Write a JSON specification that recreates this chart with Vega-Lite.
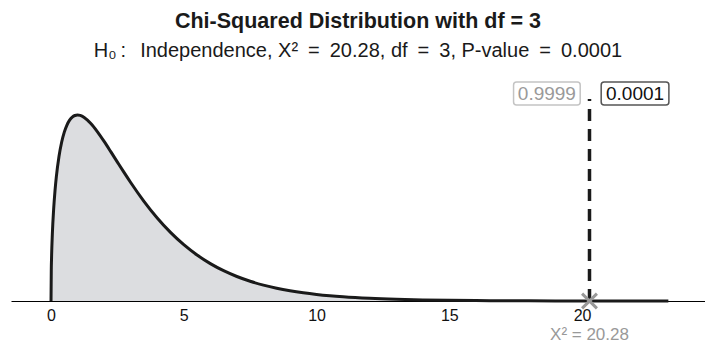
{
  "$schema": "https://vega.github.io/schema/vega-lite/v6.json",
  "autosize": "none",
  "width": 694,
  "height": 221,
  "padding": {"left": 11, "top": 80, "right": 0, "bottom": 45},
  "background": "white",
  "config": {"view": {"stroke": null}, "font": "Liberation Sans"},
  "title": {
    "text": "Chi-Squared Distribution with df = 3",
    "subtitle": "H₀\u2009:\u2002\u2009Independence, X²\u2002=\u200220.28, df\u2002=\u20023, P-value\u2002=\u20020.0001",
    "anchor": "middle",
    "frame": "group",
    "offset": 19,
    "font": "Liberation Sans",
    "fontSize": 21.5,
    "fontWeight": "bold",
    "color": "#1a1a1a",
    "subtitleFont": "Liberation Sans",
    "subtitleFontSize": 20,
    "subtitleColor": "#1a1a1a",
    "subtitlePadding": 9
  },
  "datasets": {
    "curve": [
      {"x": 0, "d": 0}, {"x": 0.01, "d": 0.0397}, {"x": 0.02, "d": 0.05586}, {"x": 0.05, "d": 0.087},
      {"x": 0.1, "d": 0.12}, {"x": 0.15, "d": 0.14334}, {"x": 0.2, "d": 0.16144}, {"x": 0.3, "d": 0.18807},
      {"x": 0.4, "d": 0.20658}, {"x": 0.5, "d": 0.2197}, {"x": 0.6, "d": 0.22893}, {"x": 0.7, "d": 0.23521},
      {"x": 0.8, "d": 0.23919}, {"x": 0.9, "d": 0.24132}, {"x": 1, "d": 0.24197}, {"x": 1.1, "d": 0.2414},
      {"x": 1.25, "d": 0.23874}, {"x": 1.5, "d": 0.2308}, {"x": 1.75, "d": 0.22}, {"x": 2, "d": 0.20755},
      {"x": 2.25, "d": 0.19427}, {"x": 2.5, "d": 0.18072}, {"x": 2.75, "d": 0.16727}, {"x": 3, "d": 0.15418},
      {"x": 3.5, "d": 0.1297}, {"x": 4, "d": 0.10798}, {"x": 4.5, "d": 0.0892}, {"x": 5, "d": 0.07322},
      {"x": 5.5, "d": 0.05981}, {"x": 6, "d": 0.04865}, {"x": 6.5, "d": 0.03944}, {"x": 7, "d": 0.03187},
      {"x": 7.5, "d": 0.0257}, {"x": 8, "d": 0.02067}, {"x": 8.5, "d": 0.01659}, {"x": 9, "d": 0.0133},
      {"x": 9.5, "d": 0.01064}, {"x": 10, "d": 0.0085}, {"x": 10.5, "d": 0.00678}, {"x": 11, "d": 0.00541},
      {"x": 12, "d": 0.00343}, {"x": 13, "d": 0.00216}, {"x": 14, "d": 0.00136}, {"x": 15, "d": 0.000855},
      {"x": 16, "d": 0.000535}, {"x": 17, "d": 0.000335}, {"x": 18, "d": 0.000209}, {"x": 19, "d": 0.00013},
      {"x": 20, "d": 0.000081}, {"x": 20.28, "d": 0.000071}, {"x": 21, "d": 0.00005}, {"x": 22, "d": 0.000031},
      {"x": 23.25, "d": 0.000017}
    ],
    "stat": [{"x": 20.28, "y0": 0, "ytop": 0.2628, "lab": "X² = 20.28"}],
    "boxes": [
      {"x1": 17.42, "x2": 19.93, "xc": 18.675, "y1": 0.255, "y2": 0.2849, "yc": 0.2699, "lab": "0.9999", "kind": "lower"},
      {"x1": 20.72, "x2": 23.27, "xc": 21.995, "y1": 0.255, "y2": 0.2849, "yc": 0.2699, "lab": "0.0001", "kind": "upper"}
    ]
  },
  "layer": [
    {
      "data": {"name": "curve"},
      "transform": [{"filter": "datum.x <= 20.28"}],
      "mark": {"type": "area", "color": "#dcdde0", "interpolate": "monotone"},
      "encoding": {
        "x": {"field": "x", "type": "quantitative", "scale": {"domain": [-1.507, 24.63], "nice": false, "zero": false},
          "axis": {"values": [0, 5, 10, 15, 20], "title": null, "grid": false, "ticks": false, "domainColor": "#000000", "domainWidth": 1.2,
            "labelFontSize": 16, "labelColor": "#111111", "labelPadding": 6, "labelFont": "Liberation Sans"}},
        "y": {"field": "d", "type": "quantitative", "scale": {"domain": [0, 0.2875], "nice": false}, "axis": null}
      }
    },
    {
      "data": {"name": "curve"},
      "mark": {"type": "line", "color": "#1a1a1a", "strokeWidth": 3, "interpolate": "monotone"},
      "encoding": {
        "x": {"field": "x", "type": "quantitative"},
        "y": {"field": "d", "type": "quantitative"}
      }
    },
    {
      "data": {"name": "stat"},
      "mark": {"type": "rule", "color": "#1a1a1a", "strokeWidth": 3.5, "strokeDash": [12, 8]},
      "encoding": {
        "x": {"field": "x", "type": "quantitative"},
        "y": {"field": "y0", "type": "quantitative"},
        "y2": {"field": "ytop"}
      }
    },
    {
      "data": {"name": "stat"},
      "mark": {"type": "point", "shape": "M-1,-1L1,1M-1,1L1,-1", "filled": false, "stroke": "#999999", "strokeWidth": 3, "size": 220, "opacity": 1},
      "encoding": {
        "x": {"field": "x", "type": "quantitative"},
        "y": {"field": "y0", "type": "quantitative"}
      }
    },
    {
      "data": {"name": "stat"},
      "mark": {"type": "text", "color": "#999999", "fontSize": 17, "font": "Liberation Sans", "dy": 34, "align": "center", "baseline": "middle"},
      "encoding": {
        "x": {"field": "x", "type": "quantitative"},
        "y": {"field": "y0", "type": "quantitative"},
        "text": {"field": "lab"}
      }
    },
    {
      "data": {"name": "boxes"},
      "mark": {"type": "rect", "fill": "white", "strokeWidth": 1.5, "cornerRadius": 3},
      "encoding": {
        "x": {"field": "x1", "type": "quantitative"},
        "x2": {"field": "x2"},
        "y": {"field": "y1", "type": "quantitative"},
        "y2": {"field": "y2"},
        "stroke": {"field": "kind", "type": "nominal", "scale": {"domain": ["lower", "upper"], "range": ["#c4c4c4", "#555555"]}, "legend": null}
      }
    },
    {
      "data": {"name": "boxes"},
      "mark": {"type": "text", "fontSize": 19, "font": "Liberation Sans", "align": "center", "baseline": "middle"},
      "encoding": {
        "x": {"field": "xc", "type": "quantitative"},
        "y": {"field": "yc", "type": "quantitative"},
        "text": {"field": "lab"},
        "color": {"field": "kind", "type": "nominal", "scale": {"domain": ["lower", "upper"], "range": ["#9a9a9a", "#111111"]}, "legend": null}
      }
    }
  ]
}
